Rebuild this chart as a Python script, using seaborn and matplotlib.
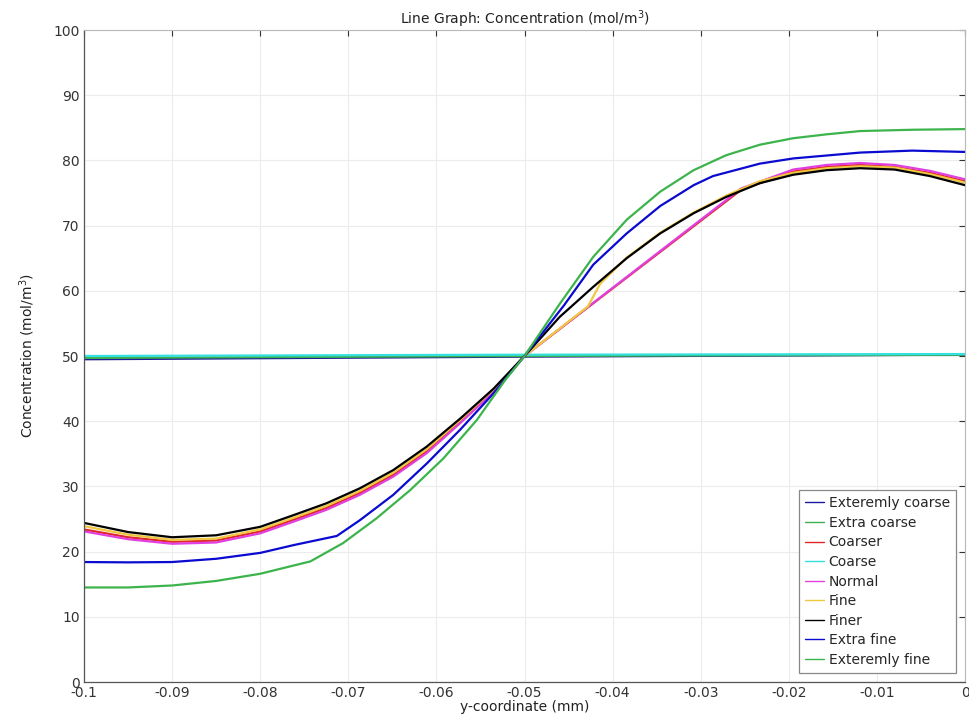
import matplotlib
matplotlib.use("Agg")
import matplotlib.pyplot as plt
import seaborn as sns
import pandas as pd

# ---------------- data ----------------
series_names = ["Exteremly coarse", "Extra coarse", "Coarser", "Coarse", "Normal",
                "Fine", "Finer", "Extra fine", "Exteremly fine"]
series_colors = ["#1a1a9a", "#3cb050", "#e02828", "#35e0e0", "#e040e0",
                 "#f0c840", "#000000", "#0a0ad0", "#3cb44b"]

x_ext_coarse = [-0.1, -0.05, 0.0]
y_ext_coarse = [49.5, 49.9, 50.2]

x_extra_coarse = [-0.1, -0.05, 0.0]
y_extra_coarse = [49.7, 50.0, 50.2]

x_coarse = [-0.1, -0.05, 0.0]
y_coarse = [50.0, 50.2, 50.3]

x_normal = [-0.1, -0.095, -0.09, -0.085, -0.08, -0.0762, -0.0725, -0.0687, -0.0649, -0.0611,
            -0.0573, -0.0535, -0.05, -0.0254, -0.0195, -0.0157, -0.0119, -0.008, -0.004, 0.0]
y_normal = [23.1, 21.9, 21.2, 21.4, 22.8, 24.6, 26.4, 28.7, 31.5, 35.1,
            39.7, 44.5, 50.0, 75.7, 78.6, 79.3, 79.6, 79.3, 78.4, 77.1]

x_coarser = [-0.1, -0.095, -0.09, -0.085, -0.08, -0.0762, -0.0725, -0.0687, -0.0649, -0.0611,
             -0.0573, -0.0535, -0.05, -0.0254, -0.0195, -0.0157, -0.0119, -0.008, -0.004, 0.0]
y_coarser = [23.4, 22.2, 21.5, 21.7, 23.1, 24.9, 26.7, 29.0, 31.8, 35.4,
             40.0, 44.7, 50.0, 75.5, 78.3, 79.0, 79.3, 79.0, 78.1, 76.8]

x_fine = [-0.1, -0.095, -0.09, -0.085, -0.08, -0.0762, -0.0725, -0.0687, -0.0649, -0.0611,
          -0.0573, -0.0535, -0.05, -0.0428, -0.0414, -0.0384, -0.0346, -0.0308, -0.0271,
          -0.0233, -0.0195, -0.0157, -0.0119, -0.008, -0.004, 0.0]
y_fine = [23.9, 22.6, 21.8, 22.0, 23.4, 25.2, 27.0, 29.3, 32.1, 35.7,
          40.2, 44.9, 50.0, 57.6, 61.1, 65.1, 68.9, 72.0, 74.6,
          76.8, 78.1, 78.8, 79.1, 78.9, 77.9, 76.6]

x_finer = [-0.1, -0.095, -0.09, -0.085, -0.08, -0.0762, -0.0725, -0.0687, -0.0649, -0.0611,
           -0.0573, -0.0535, -0.05, -0.046, -0.0422, -0.0384, -0.0346, -0.0308, -0.0271,
           -0.0233, -0.0195, -0.0157, -0.0119, -0.008, -0.004, 0.0]
y_finer = [24.4, 23.0, 22.2, 22.5, 23.8, 25.6, 27.4, 29.7, 32.5, 36.1,
           40.4, 45.0, 50.0, 56.0, 60.6, 65.0, 68.8, 71.9, 74.4,
           76.5, 77.8, 78.5, 78.8, 78.6, 77.6, 76.2]

x_extra_fine = [-0.1, -0.095, -0.09, -0.085, -0.08, -0.0762, -0.0713, -0.0687, -0.0649, -0.0611,
                -0.0573, -0.0535, -0.05, -0.0455, -0.0422, -0.0384, -0.0346, -0.0308, -0.0286,
                -0.0233, -0.0195, -0.0119, -0.006, 0.0]
y_extra_fine = [18.4, 18.35, 18.4, 18.9, 19.8, 21.0, 22.4, 24.8, 28.7, 33.5,
                38.7, 44.3, 50.0, 57.8, 64.0, 68.8, 73.0, 76.2, 77.6,
                79.5, 80.3, 81.2, 81.5, 81.3]

x_ext_fine = [-0.1, -0.095, -0.09, -0.085, -0.08, -0.0743, -0.0706, -0.0668, -0.063, -0.0592,
              -0.0554, -0.0522, -0.05, -0.046, -0.0422, -0.0384, -0.0346, -0.0308, -0.0271,
              -0.0233, -0.0195, -0.0157, -0.0119, -0.006, 0.0]
y_ext_fine = [14.5, 14.5, 14.8, 15.5, 16.6, 18.5, 21.3, 25.1, 29.4, 34.3,
              40.2, 46.3, 50.0, 58.0, 65.2, 70.9, 75.2, 78.5, 80.8,
              82.4, 83.4, 84.0, 84.5, 84.7, 84.8]

x_ticks = [-0.1, -0.09, -0.08, -0.07, -0.06, -0.05, -0.04, -0.03, -0.02, -0.01, 0.0]
x_tick_labels = ["-0.1", "-0.09", "-0.08", "-0.07", "-0.06", "-0.05", "-0.04",
                 "-0.03", "-0.02", "-0.01", "0"]
y_ticks = [0, 10, 20, 30, 40, 50, 60, 70, 80, 90, 100]

all_x = [x_ext_coarse, x_extra_coarse, x_coarser, x_coarse, x_normal,
         x_fine, x_finer, x_extra_fine, x_ext_fine]
all_y = [y_ext_coarse, y_extra_coarse, y_coarser, y_coarse, y_normal,
         y_fine, y_finer, y_extra_fine, y_ext_fine]

frames = []
for name, xs, ys in zip(series_names, all_x, all_y):
    frames.append(pd.DataFrame({"x": xs, "y": ys, "mesh": name}))
df = pd.concat(frames, ignore_index=True)

# ---------------- plot ----------------
sns.set_style("white")
plt.rcParams["font.family"] = ["DejaVu Sans"]
plt.rcParams["axes.unicode_minus"] = False

fig = plt.figure(figsize=(9.69, 7.14), dpi=100)
ax = fig.add_axes([84 / 969, 1 - 682 / 714, (965 - 84) / 969, (682 - 30) / 714])

sns.lineplot(data=df, x="x", y="y", hue="mesh", hue_order=series_names,
             palette=dict(zip(series_names, series_colors)),
             sort=False, estimator=None, linewidth=1.6, ax=ax)

ax.set_xlim(-0.1, 0.0)
ax.set_ylim(0, 100)
ax.set_xticks(x_ticks)
ax.set_xticklabels(x_tick_labels)
ax.set_yticks(y_ticks)
ax.grid(True, color="#ececec", linewidth=0.8)
ax.set_axisbelow(True)
ax.tick_params(direction="in", length=4, width=0.8, top=True, right=True,
               labelsize=10, colors="#333333", pad=3)
for side in ["left", "bottom"]:
    ax.spines[side].set_color("#555555")
    ax.spines[side].set_linewidth(0.9)
for side in ["top", "right"]:
    ax.spines[side].set_color("#b8b8b8")
    ax.spines[side].set_linewidth(0.8)

ax.set_xlabel("y-coordinate (mm)", fontsize=10, labelpad=0, color="#222222")
ax.set_ylabel("Concentration (mol/m$^3$)", fontsize=10, labelpad=12, color="#222222")
ax.set_title("Line Graph: Concentration (mol/m$^3$)", fontsize=10, pad=4, color="#222222")

leg = ax.legend(loc="lower right", fontsize=10, frameon=True, fancybox=False,
                framealpha=1, edgecolor="#888888", handlelength=1.4,
                handletextpad=0.3, labelspacing=0.4, borderpad=0.45,
                borderaxespad=0, bbox_to_anchor=(0.9898, 0.0138))
for line in leg.get_lines():
    line.set_linewidth(1.0)
leg.get_frame().set_linewidth(0.9)

fig.savefig("out.png", dpi=100)
